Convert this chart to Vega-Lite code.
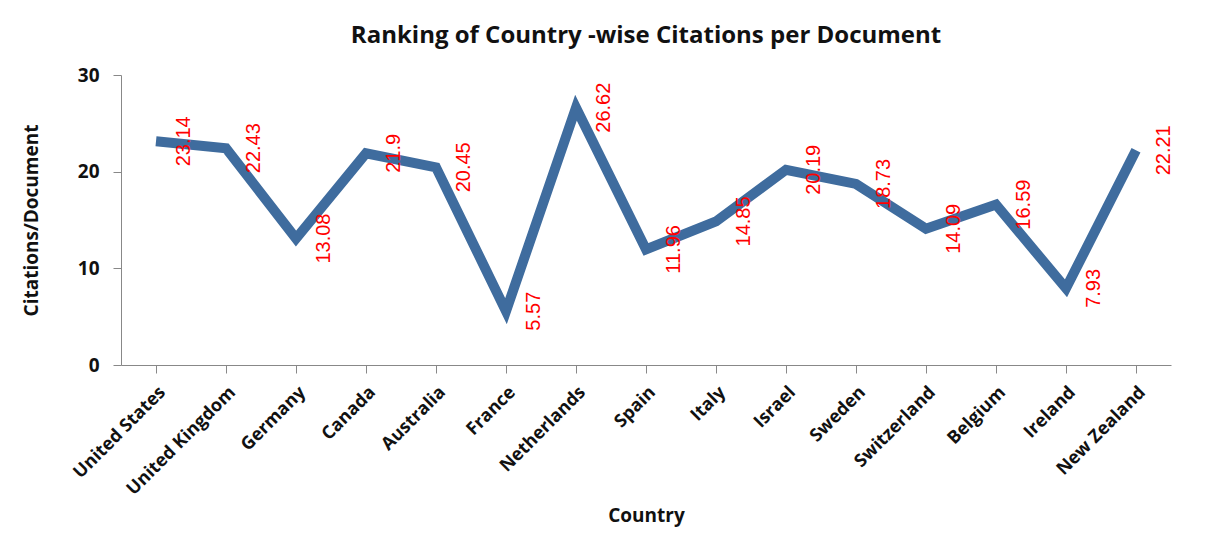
{
  "$schema": "https://vega.github.io/schema/vega-lite/v6.json",
  "width": 1050,
  "height": 290,
  "padding": {"left": 22, "top": 24, "right": 16, "bottom": 5},
  "background": "white",
  "title": {
    "text": "Ranking of Country -wise Citations per Document",
    "font": "Open Sans",
    "fontSize": 24,
    "fontWeight": "bold",
    "color": "#111111",
    "offset": 18
  },
  "data": {
    "values": [
      {"country": "United States", "value": 23.14},
      {"country": "United Kingdom", "value": 22.43},
      {"country": "Germany", "value": 13.08},
      {"country": "Canada", "value": 21.9},
      {"country": "Australia", "value": 20.45},
      {"country": "France", "value": 5.57},
      {"country": "Netherlands", "value": 26.62},
      {"country": "Spain", "value": 11.96},
      {"country": "Italy", "value": 14.85},
      {"country": "Israel", "value": 20.19},
      {"country": "Sweden", "value": 18.73},
      {"country": "Switzerland", "value": 14.09},
      {"country": "Belgium", "value": 16.59},
      {"country": "Ireland", "value": 7.93},
      {"country": "New Zealand", "value": 22.21}
    ]
  },
  "encoding": {
    "x": {
      "field": "country",
      "type": "nominal",
      "sort": null,
      "scale": {"paddingOuter": 0.3},
      "axis": {
        "title": "Country",
        "titleFont": "Open Sans",
        "titleFontSize": 19,
        "titleFontWeight": "bold",
        "titleColor": "#111111",
        "labelAngle": -45,
        "labelFont": "Open Sans",
        "labelFontSize": 18,
        "labelFontWeight": "bold",
        "labelColor": "#111111",
        "domainColor": "#888888",
        "tickColor": "#888888",
        "tickSize": 8,
        "labelPadding": 10,
        "titlePadding": 8
      }
    },
    "y": {
      "field": "value",
      "type": "quantitative",
      "scale": {"domain": [0, 30]},
      "axis": {
        "title": "Citations/Document",
        "titleFont": "Open Sans",
        "titleFontSize": 19,
        "titleFontWeight": "bold",
        "titleColor": "#111111",
        "titlePadding": 36,
        "values": [0, 10, 20, 30],
        "labelFont": "Open Sans",
        "labelFontSize": 19,
        "labelFontWeight": "bold",
        "labelColor": "#111111",
        "grid": false,
        "domainColor": "#888888",
        "tickColor": "#888888",
        "tickSize": 8,
        "labelPadding": 14
      }
    }
  },
  "layer": [
    {
      "mark": {"type": "line", "color": "#3f6c9e", "strokeWidth": 10, "strokeJoin": "miter"}
    },
    {
      "mark": {
        "type": "text",
        "color": "#ff0000",
        "font": "Liberation Sans",
        "fontSize": 20,
        "angle": 270,
        "align": "center",
        "baseline": "middle",
        "dy": 28
      },
      "encoding": {"text": {"field": "value", "type": "quantitative"}}
    }
  ],
  "config": {"view": {"stroke": null}}
}
